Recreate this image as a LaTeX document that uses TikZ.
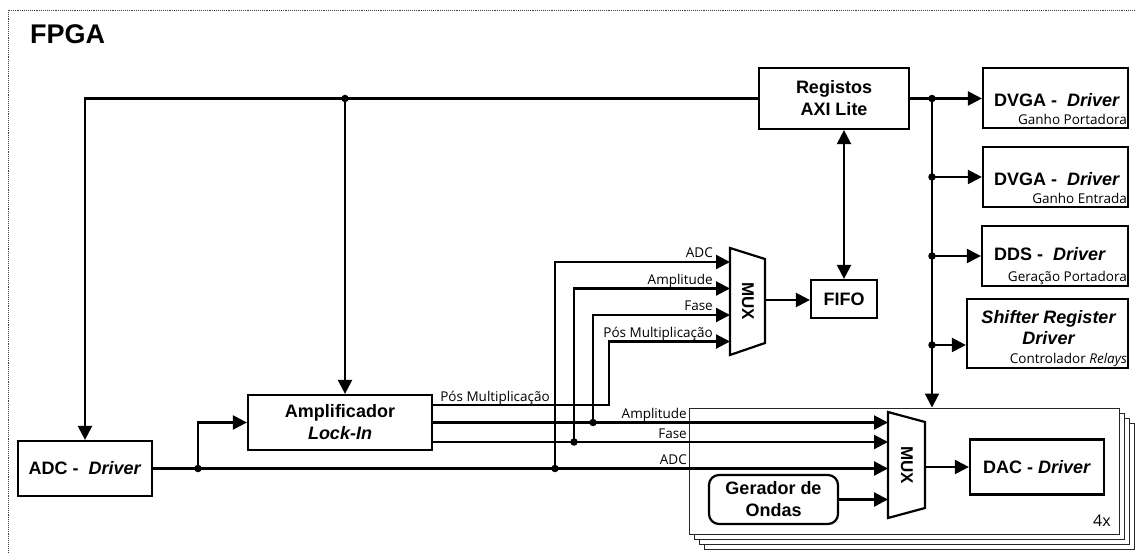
\documentclass[tikz,border=0pt]{standalone}
\usepackage{fontspec}
\setmainfont{Liberation Sans}
\newfontfamily\labelfont{Open Sans}
\usetikzlibrary{arrows.meta,calc}

\tikzset{
  wire/.style={line width=2.2pt},
  arr/.style={wire,-{Triangle[length=14pt,width=14pt]}},
  biarr/.style={wire,{Triangle[length=14pt,width=14pt]}-{Triangle[length=14pt,width=14pt]}},
  blk/.style={draw,line width=2.2pt,fill=white,align=center,inner sep=0pt,
    font=\bfseries\fontsize{18}{22}\selectfont},
  ttl/.style={align=center,inner sep=0pt,font=\bfseries\fontsize{18}{21.5}\selectfont},
  sub/.style={font=\labelfont\fontsize{13.5}{15}\selectfont,inner sep=0pt},
  sig/.style={font=\labelfont\fontsize{13.5}{15}\selectfont,inner sep=0pt},
  dot/.style={circle,fill,inner sep=0pt,minimum size=7.5pt},
  muxshape/.style={draw,line width=2.2pt,fill=white,line join=miter},
  muxtxt/.style={rotate=-90,inner sep=0pt,font=\bfseries\fontsize{17}{19}\selectfont},
  stack/.style={draw=black!85,line width=1pt,fill=white,inner sep=0pt,
    minimum width=430pt,minimum height=126pt},
}

\begin{document}
\begin{tikzpicture}[x=1pt,y=-1pt]
\useasboundingbox (0,0) rectangle (1135,553);

% outer FPGA frame
\draw[densely dotted,line width=0.9pt,black!75] (8,560) -- (8,10) -- (1140,10);
\node[anchor=west,inner sep=0pt,font=\bfseries\fontsize{27}{30}\selectfont] (fpga) at (30,34) {FPGA};

% four stacked DAC channels
\foreach \d/\n in {15/3,10/2,5/1,0/0}
  \node[stack] (stack\n) at (904+\d,471+\d) {};
\node[sub,font=\labelfont\fontsize{16}{18}\selectfont] (qty) at (1102,521) {4x};

% blocks
\node[blk,minimum width=150pt,minimum height=61pt] (reg) at (834,98.5) {Registos\\AXI Lite};
\node[blk,minimum width=145pt,minimum height=60pt] (dvgaA) at (1055.5,98) {};
\node[blk,minimum width=145pt,minimum height=60pt] (dvgaB) at (1055.5,177) {};
\node[blk,minimum width=146pt,minimum height=60pt] (dds) at (1055,256) {};
\node[blk,minimum width=161pt,minimum height=69pt] (shf) at (1047.5,333.5) {};
\node[blk,minimum width=66pt,minimum height=38pt] (fifo) at (844,299) {FIFO};
\node[blk,minimum width=184pt,minimum height=55pt] (amp) at (340,422.5) {Amplificador\\\textit{Lock-In}};
\node[blk,minimum width=134pt,minimum height=55pt] (adc) at (85,468.5) {ADC -~ \textit{Driver}};
\node[blk,minimum width=134pt,minimum height=55pt] (dac) at (1037,467) {DAC - \textit{Driver}};
\node[blk,minimum width=129pt,minimum height=49pt,rounded corners=10pt] (ger) at (773.5,499.5) {Gerador de\\Ondas};

% driver titles and captions
\node[ttl] (dvgaAt) at ($(dvgaA)+(1.5,2.5)$) {DVGA -~ \textit{Driver}};
\node[sub,anchor=base east] (dvgaAs) at ($(dvgaA.south east)+(-2,-5)$) {Ganho Portadora};
\node[ttl] (dvgaBt) at ($(dvgaB)+(1.5,2.5)$) {DVGA -~ \textit{Driver}};
\node[sub,anchor=base east] (dvgaBs) at ($(dvgaB.south east)+(-2,-5)$) {Ganho Entrada};
\node[ttl] (ddst) at ($(dds)+(-5,-2)$) {DDS -~ \textit{Driver}};
\node[sub,anchor=base east] (ddss) at ($(dds.south east)+(-2,-6)$) {Geração Portadora};
\node[ttl] (shft) at ($(shf)+(1,-6)$) {\itshape Shifter Register\\\itshape Driver};
\node[sub,anchor=base east] (shfs) at ($(shf.south east)+(-2,-6)$) {Controlador \textit{Relays}};

% multiplexers
\draw[muxshape] (730,248) -- (765,259) -- (765,343) -- (730,355) -- cycle;
\node[muxtxt] (muxA) at (748,301) {MUX};
\coordinate (mAin1) at (730,262);
\coordinate (mAin2) at (730,288.5);
\coordinate (mAin3) at (730,315);
\coordinate (mAin4) at (730,341.5);
\coordinate (mAout) at (765,300);

\draw[muxshape] (888,412) -- (925,422) -- (925,508) -- (888,518) -- cycle;
\node[muxtxt] (muxB) at (907,465) {MUX};
\coordinate (mBin1) at (888,422.5);
\coordinate (mBin2) at (888,442);
\coordinate (mBin3) at (888,468.5);
\coordinate (mBin4) at (888,499.5);
\coordinate (mBout) at (925,467);

% register bus
\coordinate (busL) at (adc.north |- reg.west);
\coordinate (jAmp) at (345,98.5);
\draw[arr] (reg.west) -- (busL) -- (adc.north);
\draw[arr] (jAmp) -- (jAmp |- amp.north);
\node[dot] (dAmp) at (jAmp) {};

\coordinate (jR) at (932,98.5);
\coordinate (jS) at (932,345);
\draw[arr] (reg.east) -- (reg.east -| dvgaA.west);
\draw[arr] (jR) -- (jR |- stack0.north);
\draw[arr] (jR |- dvgaB.west) -- (dvgaB.west);
\draw[arr] (jR |- dds.west) -- (dds.west);
\draw[arr] (jS) -- (jS -| shf.west);
\node[dot] (dR1) at (jR) {};
\node[dot] (dR2) at (jR |- dvgaB.west) {};
\node[dot] (dR3) at (jR |- dds.west) {};
\node[dot] (dR4) at (jS) {};

\draw[biarr] (reg.south -| fifo.north) -- (fifo.north);
\draw[arr] (mAout) -- (mAout -| fifo.west);

% lock-in outputs
\coordinate (pA) at ($(amp.east)+(0,-17.5)$);
\coordinate (aA) at (amp.east);
\coordinate (fA) at ($(amp.east)+(0,19.5)$);
\coordinate (pB) at (609,405);
\draw[arr] (pA) -- (pB) |- (mAin4);
\draw[arr] (aA) -- (mBin1);
\draw[arr] (fA) -- (mBin2);
\draw[arr] (adc.east) -- (mBin3);
\draw[arr] (ger.east) -- (mBin4);
\draw[arr] (mBout) -- (mBout -| dac.west);

% taps towards the capture multiplexer
\coordinate (jAd) at (198,468.5);
\coordinate (jA1) at (555,468.5);
\coordinate (jAm) at (593,422.5);
\coordinate (jFa) at (574,442);
\draw[arr] (jAd) |- (amp.west);
\draw[arr] (jA1) |- (mAin1);
\draw[arr] (jFa) |- (mAin2);
\draw[arr] (jAm) |- (mAin3);
\node[dot] (dAd) at (jAd) {};
\node[dot] (dA1) at (jA1) {};
\node[dot] (dAm) at (jAm) {};
\node[dot] (dFa) at (jFa) {};

% signal names
\node[sig,anchor=base east] (lA1) at ($(mAin1)+(-17,-4)$) {ADC};
\node[sig,anchor=base east] (lA2) at ($(mAin2)+(-17,-4)$) {Amplitude};
\node[sig,anchor=base east] (lA3) at ($(mAin3)+(-17,-4)$) {Fase};
\node[sig,anchor=base east] (lA4) at ($(mAin4)+(-17,-4)$) {Pós Multiplicação};
\node[sig,anchor=base west] (lP) at ($(pA)+(7,-4)$) {Pós Multiplicação};
\node[sig,anchor=base east] (lB1) at (687,418.5) {Amplitude};
\node[sig,anchor=base east] (lB2) at (687,438) {Fase};
\node[sig,anchor=base east] (lB3) at (687,464.5) {ADC};
\end{tikzpicture}
\end{document}
